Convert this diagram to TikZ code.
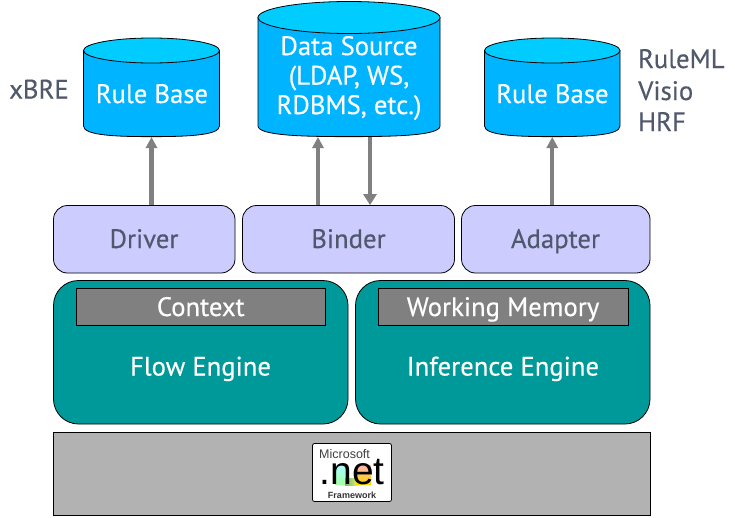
\documentclass[tikz,border=0pt]{standalone}
\usepackage{fontspec}
\setmainfont[FakeBold=0.35]{PT Sans}
\newfontfamily\logofont{Liberation Sans}
\usetikzlibrary{arrows.meta,calc}
\definecolor{cylbody}{HTML}{00B4FF}
\definecolor{cyltop}{HTML}{00CCFF}
\definecolor{lav}{HTML}{CCCCFF}
\definecolor{teal1}{HTML}{009999}
\definecolor{greytext}{HTML}{50586C}
\definecolor{midgrey}{HTML}{808080}
\definecolor{lightgrey}{HTML}{B2B2B2}
\tikzset{
  x=1pt,y=-1pt,
  label/.style={font=\fontsize{26.7}{30}\selectfont,inner sep=0pt,text=greytext,anchor=base},
  wlabel/.style={font=\fontsize{26.7}{29.5}\selectfont,inner sep=0pt,text=white,align=center,anchor=base},
  cylspace/.style={inner sep=0pt,minimum width=#1,minimum height=134pt},
  svc/.style={draw=black,fill=lav,rounded corners=14pt,line width=0.8pt,inner sep=0pt},
  engine/.style={draw=black,fill=teal1,rounded corners=25pt,line width=0.8pt,inner sep=0pt},
  bar/.style={draw=black,fill=midgrey,line width=0.8pt,inner sep=0pt},
  base/.style={draw=black,fill=lightgrey,line width=0.8pt,inner sep=0pt},
  flow/.style={draw=midgrey,line width=4.2pt,-{Triangle[length=11pt,width=11pt]}},
  flowthin/.style={draw=midgrey,line width=4pt,-{Triangle[length=11pt,width=13pt]}},
  cylside/.style={draw=black,fill=cylbody,line width=0.8pt},
  cyllid/.style={draw=black,fill=cyltop,line width=0.8pt}
}
\newcommand{\cyl}[6]{% left right lidcentre ry bodybottom bulge
  \path[cylside] (#1,#3) -- (#1,#5) .. controls (#1,{#5+#6*1.2}) and ({#1+(#2-#1)*.25},{#5+#6*1.33}) .. ({(#1+#2)/2},{#5+#6*1.33})
    .. controls ({#2-(#2-#1)*.25},{#5+#6*1.33}) and (#2,{#5+#6*1.2}) .. (#2,#5) -- (#2,#3) -- cycle;
  \path[cyllid] ({(#1+#2)/2},#3) ellipse [x radius={(#2-#1)/2},y radius=#4];
}
\begin{document}
\begin{tikzpicture}
\useasboundingbox[fill=white] (0,0) rectangle (735,517);
% cylinders
\cyl{83.5}{219.5}{50.5}{12.5}{126}{8}
\cyl{258}{440}{17.5}{16}{126}{8}
\cyl{484.5}{620}{50.5}{12.5}{126}{8}
\node[cylspace=136pt,anchor=south] (ruleA) at (151.5,137) {};
\node[cylspace=182pt,anchor=south] (source) at (349,137) {};
\node[cylspace=136pt,anchor=south] (ruleB) at (552.25,137) {};
\node[wlabel] (ruleAt) at (152,103) {Rule Base};
\node[wlabel,anchor=center] (sourcet) at (349,78) {Data Source\\(LDAP, WS,\\RDBMS, etc.)};
\node[wlabel] (ruleBt) at (552.5,103) {Rule Base};
% side labels
\node[label,anchor=base west] (xbre) at (9,98.5) {xBRE};
\node[label,anchor=base west] (ruleml) at (638,68) {RuleML};
\node[label,anchor=base west] (visio) at (638,100) {Visio};
\node[label,anchor=base west] (hrf) at (638,131) {HRF};
% services
\node[svc,minimum width=181.5pt,minimum height=67.5pt] (driver) at (144.25,239.25) {};
\node[label] at (144,248) {Driver};
\node[svc,minimum width=212pt,minimum height=67.5pt] (binder) at (348.5,239.25) {};
\node[label] at (348.5,248) {Binder};
\node[svc,minimum width=188.5pt,minimum height=67.5pt] (adapter) at (555.75,239.25) {};
\node[label] at (555.5,248) {Adapter};
% engines
\node[engine,minimum width=294.5pt,minimum height=143.5pt] (flowengine) at (200.75,352.25) {};
\node[wlabel] (flowt) at (200.5,375.5) {Flow Engine};
\node[engine,minimum width=294.5pt,minimum height=143.5pt] (infengine) at (502.75,352.25) {};
\node[wlabel] (inft) at (503,375.5) {Inference Engine};
\node[bar,minimum width=249.5pt,minimum height=37pt] (context) at (200.75,307) {};
\node[wlabel] at (200.75,316) {Context};
\node[bar,minimum width=250.5pt,minimum height=37pt] (memory) at (503.25,307) {};
\node[wlabel] at (503,316) {Working Memory};
% framework band
\node[base,minimum width=596.5pt,minimum height=83pt] (framework) at (351.75,473.5) {};
% logo
\node[draw=black,fill=white,rounded corners=2pt,line width=0.8pt,minimum width=79pt,minimum height=58pt,inner sep=0pt] (logo) at (352,472.5) {};
\shade[top color=cyan!35!white,bottom color=green!35!white] (335,465) rectangle (347,484);
\shade[left color=green!45!black!55!white,right color=yellow!60!white] (345,478) rectangle (360,485);
\shade[top color=red!30!white,bottom color=yellow!70!orange] (356,465) rectangle (371,484);
\node[inner sep=0pt,text=black!75,font=\logofont\fontsize{12.5}{12.5}\selectfont,anchor=base west] (mstext) at (319,458) {Microsoft};
\node[inner sep=0pt,text=black,font=\logofont\fontsize{39}{39}\selectfont,anchor=base] (nettext) at (352,484) {.net};
\node[inner sep=0pt,text=black!80,font=\logofont\bfseries\fontsize{9}{9}\selectfont,anchor=base] (fwtext) at (352,498) {Framework};
% connectors
\draw[flow] (driver.north -| ruleA.south) -- (ruleA.south);
\draw[flow] ([xshift=-30.5pt]binder.north) -- ([xshift=-30.5pt]binder.north |- source.south);
\draw[flowthin] ([xshift=21.5pt]binder.north |- source.south) -- ([xshift=21.5pt]binder.north);
\draw[flow] (adapter.north -| ruleB.south) -- (ruleB.south);
\end{tikzpicture}
\end{document}
